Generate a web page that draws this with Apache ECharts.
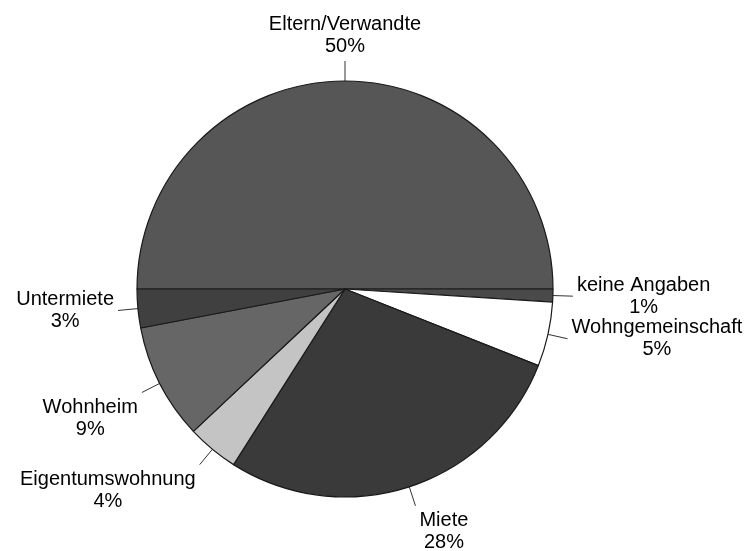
<!DOCTYPE html>
<html><head><meta charset="utf-8">
<script src="https://cdn.jsdelivr.net/npm/echarts@6/dist/echarts.min.js"></script>
<style>html,body{margin:0;padding:0;background:#fff}#c{width:751px;height:551px}</style>
</head><body><div id="c"></div>
<script>
const categories = ['Eltern/Verwandte','keine Angaben','Wohngemeinschaft','Miete','Eigentumswohnung','Wohnheim','Untermiete'];
const shares = [50, 1, 5, 28, 4, 9, 3];
const sliceColors = ['#565656','#4a4a4a','#ffffff','#3a3a3a','#c4c4c4','#666666','#404040'];

const chart = echarts.init(document.getElementById('c'), null, {renderer:'canvas'});
const data = categories.map((n,i)=>({name:n, value:shares[i], itemStyle:{color:sliceColors[i]}}));
chart.setOption({
  animation:false,
  backgroundColor:'#fff',
  series:[{
    type:'pie',
    center:[345,289],
    radius:[0,208],
    startAngle:180,
    clockwise:true,
    avoidLabelOverlap:false,
    minShowLabelAngle:0,
    data:data,
    itemStyle:{borderColor:'#1a1a1a', borderWidth:1.2},
    emphasis:{disabled:true},
    label:{
      show:true, position:'outside', alignTo:'none',
      formatter:'{b}\n{c}%',
      fontFamily:'Liberation Sans, Arial, sans-serif',
      fontSize:20, lineHeight:22, color:'#000', align:'center'
    },
    labelLine:{show:true, length:20, length2:0, lineStyle:{color:'#333', width:1}},
    labelLayout:function(params){
      const pts = params.labelLinePoints;
      if(!pts) return {};
      const p0 = pts[0], p1 = pts[1];
      let dx = p1[0]-p0[0], dy = p1[1]-p0[1];
      const L = Math.hypot(dx,dy)||1; dx/=L; dy/=L;
      const r = params.labelRect, g = 4;
      const ox = Math.abs(dx)>0.25 ? Math.sign(dx)*(r.width/2+g) : 0;
      const oy = Math.abs(dy)>0.25 ? Math.sign(dy)*(r.height/2+g) : 0;
      return {x:p1[0]+ox, y:p1[1]+oy, align:'center', verticalAlign:'middle',
              labelLinePoints:[[p0[0],p0[1]],[p1[0],p1[1]],[p1[0],p1[1]]]};
    }
  }]
});
</script>
</body></html>
